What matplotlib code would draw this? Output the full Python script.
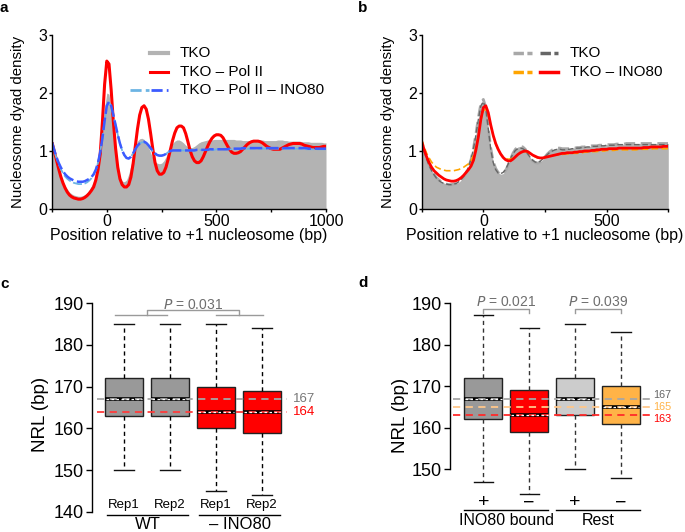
import numpy as np
import matplotlib
matplotlib.use('Agg')
import matplotlib.pyplot as plt
from matplotlib.lines import Line2D

plt.rcParams['font.family'] = ['Liberation Sans', 'DejaVu Sans']
plt.rcParams['axes.linewidth'] = 1.0

W, H = 685, 532

# ############################################################
# Data, panel a (position relative to +1 nucleosome, every 10 bp)
pos_a = np.arange(-250, 1001, 10)
tko_a = [1.12, 0.98, 0.84, 0.70, 0.58, 0.48, 0.40, 0.34, 0.29, 0.26,
         0.24, 0.23, 0.22, 0.22, 0.23, 0.25, 0.28, 0.33, 0.40, 0.48,
         0.60, 0.78, 1.05, 1.40, 1.75, 2.00, 1.98, 1.70, 1.30, 0.95,
         0.70, 0.55, 0.48, 0.47, 0.50, 0.60, 0.75, 0.92, 1.07, 1.17,
         1.21, 1.22, 1.20, 1.15, 1.07, 0.97, 0.88, 0.82, 0.79, 0.78,
         0.79, 0.83, 0.90, 0.99, 1.07, 1.13, 1.17, 1.19, 1.19, 1.17,
         1.14, 1.10, 1.07, 1.06, 1.06, 1.08, 1.11, 1.14, 1.16, 1.17,
         1.18, 1.19, 1.19, 1.19, 1.20, 1.20, 1.20, 1.20, 1.20, 1.20,
         1.20, 1.20, 1.20, 1.20, 1.19, 1.19, 1.19, 1.18, 1.18, 1.18,
         1.18, 1.18, 1.18, 1.19, 1.19, 1.19, 1.19, 1.18, 1.18, 1.18,
         1.18, 1.18, 1.18, 1.19, 1.19, 1.19, 1.18, 1.18, 1.17, 1.17,
         1.17, 1.17, 1.17, 1.17, 1.16, 1.16, 1.16, 1.16, 1.15, 1.15,
         1.15, 1.15, 1.15, 1.15, 1.14, 1.14]
polii_a = [1.15, 1.00, 0.85, 0.70, 0.56, 0.45, 0.36, 0.29, 0.24, 0.21,
           0.19, 0.18, 0.17, 0.17, 0.18, 0.20, 0.23, 0.27, 0.32, 0.38,
           0.50, 0.68, 0.95, 1.50, 2.15, 2.55, 2.50, 2.05, 1.50, 1.05,
           0.72, 0.52, 0.42, 0.38, 0.38, 0.42, 0.55, 0.78, 1.08, 1.38,
           1.62, 1.75, 1.78, 1.72, 1.55, 1.30, 1.03, 0.80, 0.66, 0.60,
           0.60, 0.63, 0.72, 0.86, 1.02, 1.18, 1.31, 1.40, 1.43, 1.43,
           1.40, 1.30, 1.16, 1.01, 0.90, 0.83, 0.80, 0.80, 0.83, 0.90,
           0.99, 1.08, 1.16, 1.22, 1.26, 1.28, 1.28, 1.27, 1.23, 1.16,
           1.09, 1.03, 0.98, 0.96, 0.96, 0.97, 0.99, 1.03, 1.07, 1.11,
           1.14, 1.16, 1.17, 1.17, 1.17, 1.16, 1.14, 1.11, 1.08, 1.06,
           1.04, 1.03, 1.03, 1.03, 1.03, 1.05, 1.07, 1.09, 1.11, 1.12,
           1.13, 1.13, 1.13, 1.13, 1.12, 1.10, 1.09, 1.08, 1.07, 1.06,
           1.06, 1.06, 1.06, 1.07, 1.08, 1.08]
ino80_rep1_a = [1.15, 1.01, 0.88, 0.78, 0.69, 0.62, 0.56, 0.52, 0.49, 0.47,
                0.45, 0.44, 0.43, 0.43, 0.43, 0.44, 0.46, 0.49, 0.53, 0.59,
                0.67, 0.80, 0.98, 1.22, 1.52, 1.78, 1.84, 1.78, 1.62, 1.45,
                1.28, 1.13, 1.01, 0.93, 0.88, 0.87, 0.90, 0.96, 1.03, 1.09,
                1.13, 1.15, 1.15, 1.13, 1.09, 1.04, 0.99, 0.95, 0.93, 0.92,
                0.92, 0.93, 0.95, 0.98, 1.00, 1.01, 1.01, 1.01, 1.01, 1.01,
                1.01, 1.01, 1.01, 1.01, 1.01, 1.01, 1.01, 1.01, 1.02, 1.02,
                1.02, 1.02, 1.02, 1.02, 1.02, 1.03, 1.03, 1.03, 1.03, 1.03,
                1.03, 1.03, 1.03, 1.04, 1.04, 1.04, 1.04, 1.04, 1.04, 1.04,
                1.04, 1.04, 1.04, 1.04, 1.04, 1.04, 1.04, 1.04, 1.04, 1.04,
                1.04, 1.04, 1.04, 1.04, 1.04, 1.04, 1.04, 1.04, 1.04, 1.04,
                1.04, 1.04, 1.04, 1.04, 1.04, 1.04, 1.03, 1.03, 1.03, 1.03,
                1.03, 1.03, 1.03, 1.03, 1.03, 1.03]
ino80_rep2_a = [1.15, 1.02, 0.90, 0.80, 0.72, 0.65, 0.60, 0.56, 0.53, 0.51,
                0.49, 0.48, 0.47, 0.47, 0.47, 0.48, 0.50, 0.52, 0.55, 0.60,
                0.68, 0.80, 0.98, 1.22, 1.52, 1.78, 1.85, 1.78, 1.62, 1.45,
                1.28, 1.13, 1.01, 0.93, 0.88, 0.87, 0.90, 0.96, 1.03, 1.09,
                1.13, 1.15, 1.16, 1.14, 1.10, 1.05, 1.00, 0.96, 0.93, 0.92,
                0.92, 0.93, 0.95, 0.98, 1.00, 1.01, 1.01, 1.01, 1.01, 1.01,
                1.01, 1.01, 1.01, 1.01, 1.01, 1.01, 1.02, 1.02, 1.02, 1.02,
                1.02, 1.02, 1.03, 1.03, 1.03, 1.03, 1.03, 1.03, 1.03, 1.03,
                1.03, 1.04, 1.04, 1.04, 1.04, 1.04, 1.04, 1.05, 1.05, 1.05,
                1.05, 1.05, 1.05, 1.05, 1.05, 1.05, 1.05, 1.05, 1.05, 1.05,
                1.05, 1.05, 1.05, 1.05, 1.05, 1.05, 1.05, 1.05, 1.05, 1.05,
                1.05, 1.05, 1.05, 1.05, 1.05, 1.05, 1.05, 1.04, 1.04, 1.04,
                1.04, 1.04, 1.04, 1.04, 1.04, 1.04]

# Data, panel b
pos_b = np.arange(-250, 751, 10)
tko_rep1_b = [1.15, 1.00, 0.87, 0.76, 0.67, 0.60, 0.54, 0.50, 0.47, 0.45,
              0.43, 0.42, 0.42, 0.43, 0.44, 0.46, 0.50, 0.55, 0.62, 0.72,
              0.85, 1.05, 1.30, 1.58, 1.82, 1.89, 1.75, 1.40, 1.05, 0.82,
              0.70, 0.63, 0.60, 0.61, 0.66, 0.75, 0.86, 0.96, 1.03, 1.07,
              1.08, 1.07, 1.03, 0.96, 0.89, 0.83, 0.80, 0.79, 0.81, 0.85,
              0.90, 0.95, 0.99, 1.02, 1.04, 1.05, 1.05, 1.04, 1.04, 1.04,
              1.04, 1.05, 1.05, 1.06, 1.06, 1.07, 1.07, 1.08, 1.08, 1.09,
              1.09, 1.09, 1.10, 1.10, 1.10, 1.11, 1.11, 1.11, 1.11, 1.12,
              1.12, 1.12, 1.12, 1.13, 1.13, 1.13, 1.13, 1.13, 1.13, 1.13,
              1.13, 1.13, 1.13, 1.13, 1.13, 1.13, 1.13, 1.13, 1.13, 1.13,
              1.13]
tko_rep2_b = [1.14, 0.99, 0.86, 0.75, 0.66, 0.59, 0.53, 0.49, 0.46, 0.44,
              0.43, 0.42, 0.42, 0.43, 0.44, 0.47, 0.51, 0.56, 0.63, 0.73,
              0.86, 1.04, 1.28, 1.55, 1.78, 1.85, 1.72, 1.38, 1.03, 0.80,
              0.68, 0.62, 0.61, 0.63, 0.68, 0.77, 0.87, 0.95, 1.01, 1.04,
              1.05, 1.04, 1.01, 0.95, 0.89, 0.84, 0.81, 0.80, 0.82, 0.86,
              0.90, 0.94, 0.98, 1.00, 1.02, 1.03, 1.03, 1.02, 1.02, 1.03,
              1.03, 1.04, 1.04, 1.05, 1.05, 1.06, 1.06, 1.07, 1.07, 1.08,
              1.08, 1.08, 1.09, 1.09, 1.09, 1.10, 1.10, 1.10, 1.10, 1.11,
              1.11, 1.11, 1.11, 1.11, 1.11, 1.11, 1.11, 1.11, 1.11, 1.11,
              1.11, 1.11, 1.11, 1.11, 1.11, 1.11, 1.11, 1.11, 1.11, 1.11,
              1.11]
ino80_rep1_b = [1.20, 1.07, 0.96, 0.88, 0.81, 0.76, 0.72, 0.70, 0.68, 0.67,
                0.66, 0.66, 0.66, 0.66, 0.67, 0.68, 0.70, 0.72, 0.75, 0.78,
                0.83, 0.92, 1.07, 1.27, 1.52, 1.70, 1.72, 1.62, 1.43, 1.26,
                1.12, 1.02, 0.95, 0.90, 0.87, 0.86, 0.86, 0.88, 0.91, 0.94,
                0.97, 0.98, 0.99, 0.98, 0.95, 0.92, 0.90, 0.88, 0.88, 0.88,
                0.89, 0.90, 0.91, 0.92, 0.93, 0.93, 0.94, 0.94, 0.95, 0.95,
                0.95, 0.96, 0.96, 0.96, 0.97, 0.97, 0.98, 0.98, 0.98, 0.99,
                0.99, 0.99, 1.00, 1.00, 1.00, 1.01, 1.01, 1.01, 1.01, 1.02,
                1.02, 1.02, 1.02, 1.02, 1.02, 1.02, 1.02, 1.02, 1.03, 1.03,
                1.03, 1.03, 1.03, 1.03, 1.04, 1.04, 1.04, 1.04, 1.04, 1.04,
                1.04]
ino80_rep2_b = [1.16, 1.02, 0.90, 0.80, 0.72, 0.66, 0.62, 0.58, 0.55, 0.52,
                0.50, 0.49, 0.48, 0.48, 0.49, 0.51, 0.54, 0.58, 0.63, 0.68,
                0.74, 0.84, 1.02, 1.25, 1.55, 1.75, 1.78, 1.66, 1.45, 1.27,
                1.13, 1.03, 0.95, 0.89, 0.85, 0.83, 0.83, 0.86, 0.90, 0.94,
                0.97, 0.99, 1.00, 0.99, 0.96, 0.93, 0.91, 0.89, 0.88, 0.88,
                0.89, 0.90, 0.91, 0.92, 0.93, 0.94, 0.95, 0.96, 0.96, 0.97,
                0.97, 0.97, 0.98, 0.98, 0.99, 0.99, 1.00, 1.00, 1.00, 1.01,
                1.01, 1.02, 1.02, 1.03, 1.03, 1.03, 1.04, 1.04, 1.04, 1.04,
                1.05, 1.05, 1.05, 1.05, 1.05, 1.05, 1.05, 1.05, 1.05, 1.05,
                1.06, 1.06, 1.06, 1.07, 1.07, 1.07, 1.07, 1.07, 1.08, 1.08,
                1.08]

# Data, panel c (NRL box plots)
rep_labels_c = ['Rep1', 'Rep2', 'Rep1', 'Rep2']
groups_c = ['WT', '– INO80']
whislo_c = [150, 150, 145, 144]
q1_c = [163, 163, 160, 159]
med_c = [167, 167, 164, 164]
q3_c = [172, 172, 170, 169]
whishi_c = [185, 185, 185, 184]
colors_c = ['#999999', '#999999', '#ff0000', '#ff0000']
ref_c = [167, 164]
ref_colors_c = ['#a6a6a6', '#ff3b3b']
pval_c = '0.031'

# Data, panel d
sign_labels_d = ['+', '\u2212', '+', '\u2212']
groups_d = ['INO80 bound', 'Rest']
whislo_d = [147, 144, 150, 148]
q1_d = [162, 159, 163, 161]
med_d = [167, 163, 167, 165]
q3_d = [172, 169, 172, 170]
whishi_d = [187, 184, 185, 183]
colors_d = ['#999999', '#ff0000', '#cccccc', '#ffb347']
ref_d = [167, 165, 163]
ref_colors_d = ['#a6a6a6', '#ffc78a', '#ff2a2a']
ref_text_d = ['#666666', '#ffb347', '#ff0000']
pvals_d = ['0.021', '0.039']


def axes_px(left, top, right, bottom):
    return fig.add_axes([left / W, 1 - bottom / H, (right - left) / W, (bottom - top) / H])


def fx(x):
    return x / W


def fy(y):
    return 1 - y / H


fig = plt.figure(figsize=(W / 100, H / 100), dpi=100)

FS_TICK = 11.5
FS_LEG = 11
FS_XLAB = 11.5
FS_YLAB = 10.8

# ############################################################
# Panel a
ax = axes_px(52, 35, 326, 209)
ax.fill_between(pos_a, 0, tko_a, color='#b3b3b3', lw=0)
ax.plot(pos_a, polii_a, color='#ff0000', lw=2.2, solid_capstyle='butt')
ax.plot(pos_a, ino80_rep1_a, color='#6cb4e4', lw=1.3, ls=(0, (5, 1.5)))
ax.plot(pos_a, ino80_rep2_a, color='#3b5bff', lw=1.8, ls=(0, (5, 1.5)))
ax.set_xlim(-250, 1000)
ax.set_ylim(0, 3)
ax.set_xticks([-250, 0, 250, 500, 750, 1000])
ax.set_xticklabels(['', '0', '', '500', '', '1000'])
ax.set_yticks([0, 1, 2, 3])
ax.set_xlabel('Position relative to +1 nucleosome (bp)', fontsize=FS_XLAB)
ax.set_ylabel('Nucleosome dyad density', fontsize=FS_YLAB)
ax.xaxis.set_label_coords(0.5, -0.11)
ax.yaxis.set_label_coords(-0.1, 0.5)

# legend a
fig.add_artist(Line2D([fx(150), fx(168)], [fy(53), fy(53)], color='#b3b3b3', lw=3))
fig.add_artist(Line2D([fx(150), fx(168)], [fy(72), fy(72)], color='#ff0000', lw=2.2))
fig.add_artist(Line2D([fx(130), fx(149)], [fy(90), fy(90)], color='#6cb4e4', lw=2, ls=(0, (4, 1.5))))
fig.add_artist(Line2D([fx(151), fx(168)], [fy(90), fy(90)], color='#3b5bff', lw=2, ls=(0, (4, 1.5))))
fig.text(fx(180), fy(53), 'TKO', fontsize=FS_LEG, va='center')
fig.text(fx(180), fy(72), 'TKO – Pol II', fontsize=FS_LEG, va='center')
fig.text(fx(180), fy(90), 'TKO – Pol II – INO80', fontsize=FS_LEG, va='center')

# ############################################################
# Panel b
bx = axes_px(421.7, 35, 668.3, 209)
bx.fill_between(pos_b, 0, tko_rep1_b, color='#b3b3b3', lw=0)
bx.plot(pos_b, tko_rep1_b, color='#a8a8a8', lw=2, ls=(0, (4, 2)))
bx.plot(pos_b, tko_rep2_b, color='#666666', lw=1.0, ls=(0, (4, 2)))
bx.plot(pos_b, ino80_rep1_b, color='#ffa500', lw=1.2, ls=(0, (4, 2)))
bx.plot(pos_b, ino80_rep2_b, color='#ff0000', lw=2.0)
bx.set_xlim(-250, 750)
bx.set_ylim(0, 3)
bx.set_xticks([-250, 0, 250, 500, 750])
bx.set_xticklabels(['', '0', '', '500', ''])
bx.set_yticks([0, 1, 2, 3])
bx.set_xlabel('Position relative to +1 nucleosome (bp)', fontsize=FS_XLAB)
bx.set_ylabel('Nucleosome dyad density', fontsize=FS_YLAB)
bx.xaxis.set_label_coords(0.5, -0.11)
bx.yaxis.set_label_coords(-0.108, 0.5)

# legend b
fig.add_artist(Line2D([fx(513), fx(532)], [fy(53), fy(53)], color='#a8a8a8', lw=2.5, ls=(0, (3, 1))))
fig.add_artist(Line2D([fx(540), fx(558)], [fy(53), fy(53)], color='#666666', lw=2.5, ls=(0, (3, 1))))
fig.add_artist(Line2D([fx(513), fx(532)], [fy(72), fy(72)], color='#ffa500', lw=2.5, ls=(0, (3, 1))))
fig.add_artist(Line2D([fx(540), fx(558)], [fy(72), fy(72)], color='#ff0000', lw=2.5))
fig.text(fx(570), fy(53), 'TKO', fontsize=FS_LEG, va='center')
fig.text(fx(570), fy(72), 'TKO – INO80', fontsize=FS_LEG, va='center')

for a in (ax, bx):
    a.spines[['top', 'right']].set_visible(False)
    a.tick_params(direction='out', length=2.5, width=1, labelsize=FS_TICK, pad=1)


# ############################################################
# box plots
def boxes(axis, wlo, q1, med, q3, whi, colors, whisker_color):
    stats = [dict(whislo=a, q1=b, med=c, q3=d, whishi=e, fliers=[])
             for a, b, c, d, e in zip(wlo, q1, med, q3, whi)]
    positions = np.arange(1, len(stats) + 1)
    bp = axis.bxp(stats, positions=positions, widths=0.82, capwidths=0.42,
                  patch_artist=True, showfliers=False,
                  boxprops=dict(edgecolor='#222222', lw=1.0),
                  whiskerprops=dict(color=whisker_color, lw=1.0, ls=(0, (3, 2.5))),
                  capprops=dict(color='#111111', lw=1.0),
                  medianprops=dict(color='black', lw=2.6, solid_capstyle='butt'))
    for patch, col in zip(bp['boxes'], colors):
        patch.set_facecolor(col)
    for p, m in zip(positions, med):
        axis.plot([p - 0.40, p + 0.40], [m, m], color='white', lw=0.9,
                  ls=(0, (2, 2)), zorder=4)
    return positions


# Panel c
cx = axes_px(92.3, 303.3, 92.3 + 4.29 * 46, 511.7)
cx.set_xlim(0.31, 4.6)
cx.set_ylim(140, 190)
for v, col in zip(ref_c, ref_colors_c):
    cx.plot([0.41, 4.54], [v, v], color=col, lw=1.3, ls=(0, (4, 3)), zorder=3)
pos_c = boxes(cx, whislo_c, q1_c, med_c, q3_c, whishi_c, colors_c, 'black')
for v, col in zip(ref_c, ['#777777', '#ff0000']):
    cx.text(4.67, v, str(v), color=col, fontsize=9.5, va='center', ha='left')
cx.set_yticks([140, 150, 160, 170, 180, 190])
cx.set_xticks([])
cx.spines[['top', 'right', 'bottom']].set_visible(False)
cx.tick_params(direction='out', length=4, width=1, labelsize=13, pad=2)
cx.set_ylabel('NRL (bp)', fontsize=13.5)
cx.yaxis.set_label_coords(-0.22, 0.465)
for p, lab in zip(pos_c, rep_labels_c):
    cx.text(p, 141.6, lab, ha='center', va='center', fontsize=9.5, clip_on=False)
for (x0, x1), lab in zip([(0.62, 2.40), (2.64, 4.39)], groups_c):
    cx.plot([x0, x1], [139.2, 139.2], color='black', lw=1, clip_on=False)
    cx.text((x0 + x1) / 2, 136.9, lab, ha='center', va='center', fontsize=12, clip_on=False)
# P-value bracket c
gc = '#9a9a9a'
cx.plot([0.8, 1.93], [187.2, 187.2], color=gc, lw=1, clip_on=False)
cx.plot([3.0, 4.03], [187.2, 187.2], color=gc, lw=1, clip_on=False)
cx.plot([1.5, 1.5, 3.5, 3.5], [187.2, 188.4, 188.4, 187.2], color=gc, lw=1, clip_on=False)
cx.text(2.5, 189.6, f'$\\mathit{{P}}$ = {pval_c}', color='#6e6e6e', fontsize=10,
        ha='center', va='center')

# Panel d
dx = axes_px(450, 303, 450 + 4.425 * 45.9, 511)
dx.set_xlim(0.275, 4.7)
dx.set_ylim(140, 190)
for v, col in zip(ref_d, ref_colors_d):
    dx.plot([0.34, 4.63], [v, v], color=col, lw=1.3, ls=(0, (4, 3)), zorder=3)
pos_d = boxes(dx, whislo_d, q1_d, med_d, q3_d, whishi_d, colors_d, '#333333')
# labels nudged apart slightly so they stay readable
for v, col, shift in zip(ref_d, ref_text_d, [0.9, 0.0, -0.9]):
    dx.text(4.70, v + shift, str(v), color=col, fontsize=7.8, va='center', ha='left')
dx.set_yticks([150, 160, 170, 180, 190])
dx.set_xticks([])
dx.spines[['top', 'right', 'bottom']].set_visible(False)
dx.spines['left'].set_bounds(150, 190)
dx.tick_params(direction='out', length=4, width=1, labelsize=13, pad=2)
dx.set_ylabel('NRL (bp)', fontsize=13.5)
dx.yaxis.set_label_coords(-0.2, 0.46)
for p, lab in zip(pos_d, sign_labels_d):
    dx.text(p, 142.0, lab, ha='center', va='center', fontsize=14, clip_on=False)
for (x0, x1), lab in zip([(0.58, 2.42), (2.58, 4.41)], groups_d):
    dx.plot([x0, x1], [140.2, 140.2], color='black', lw=1, clip_on=False)
    dx.text((x0 + x1) / 2, 137.7, lab, ha='center', va='center', fontsize=11.5, clip_on=False)
for (x0, x1), pv in zip([(1, 2), (3, 4)], pvals_d):
    dx.plot([x0, x0, x1, x1], [187.5, 188.6, 188.6, 187.5], color=gc, lw=1, clip_on=False)
    dx.text((x0 + x1) / 2, 190.3, f'$\\mathit{{P}}$ = {pv}', color='#6e6e6e', fontsize=10,
            ha='center', va='center')

# panel letters
for x, y, s in [(0, 8, 'a'), (358, 8, 'b'), (0, 284, 'c'), (358, 283, 'd')]:
    fig.text(fx(x), fy(y), s, fontsize=11, fontweight='bold', va='center', ha='left')

fig.savefig('out.png', dpi=100)
